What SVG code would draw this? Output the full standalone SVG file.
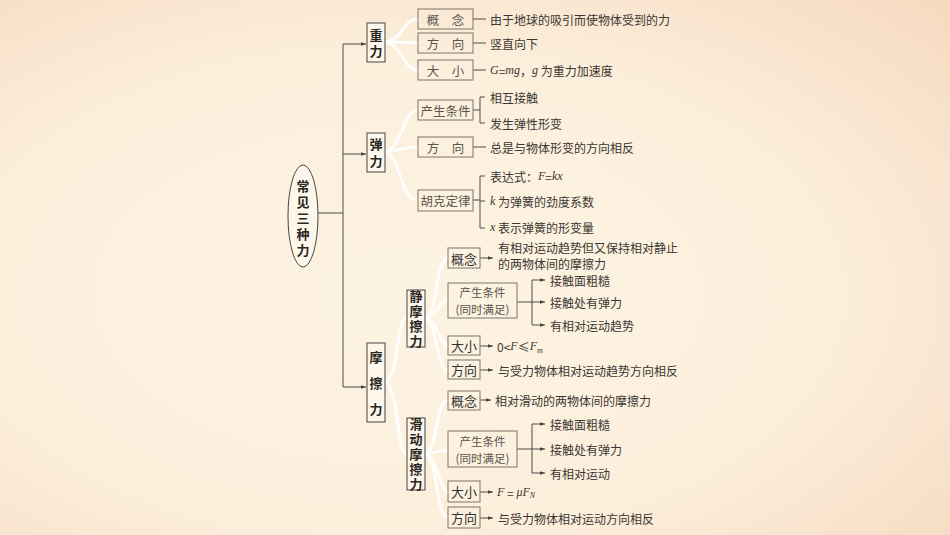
<svg xmlns="http://www.w3.org/2000/svg" width="950" height="535" viewBox="0 0 950 535">
<defs>
<radialGradient id="bg" cx="0.42" cy="0.55" r="0.8">
<stop offset="0" stop-color="#fdf3e2"/>
<stop offset="0.55" stop-color="#fcefdc"/>
<stop offset="1" stop-color="#f6d9bf"/>
</radialGradient>
<marker id="ah" markerWidth="6" markerHeight="6" refX="5" refY="3" orient="auto" markerUnits="userSpaceOnUse"><path d="M0,1.2 L5,3 L0,4.8 z" fill="#444"/></marker>
<style>
.l1{fill:#fdf6ea;stroke:#4a4540;stroke-width:1}
.l2{fill:none;stroke:#7d746a;stroke-width:1}
.el{fill:#fdf6ea;stroke:#4a4540;stroke-width:1}
text{font-family:"Noto Sans CJK SC","Noto Sans",sans-serif;font-size:12px;fill:#3a3632;dominant-baseline:central}
.v{writing-mode:vertical-rl;text-orientation:upright;dominant-baseline:auto;font-weight:bold;fill:#2a2622;text-anchor:middle;font-size:13px}
.c{text-anchor:middle;font-size:12.5px;fill:#5a544e}
.c2{text-anchor:middle;font-size:11.5px;fill:#5a544e}
.d{text-anchor:middle;font-size:13px;fill:#333}
.m{font-family:"Liberation Serif",serif;font-style:italic}
.ln{fill:none;stroke:#4f4a45;stroke-width:1}
.ar{fill:none;stroke:#4f4a45;stroke-width:1;marker-end:url(#ah)}
.fan{fill:none;stroke:#ffffff;stroke-width:3;stroke-linecap:round;opacity:0.9}
</style>
</defs>
<rect width="950" height="535" fill="url(#bg)"/>

<g id="connectors">
<path class="fan" d="M386,42 C402,40 404,19 418,19"/>
<path class="fan" d="M386,42 C400,42 406,43 418,43"/>
<path class="fan" d="M386,42 C402,46 404,70 418,70"/>
<path class="fan" d="M386,152 C402,146 404,110 418,110"/>
<path class="fan" d="M386,152 C400,150 406,147 418,147"/>
<path class="fan" d="M386,152 C402,160 400,200 418,200"/>
<path class="fan" d="M386,382 C400,370 396,318 407,318"/>
<path class="fan" d="M386,382 C400,394 396,454 407,454"/>
<path class="fan" d="M426,318 C438,310 436,258 448,258"/>
<path class="fan" d="M426,318 C438,314 440,300 448,300"/>
<path class="fan" d="M426,318 C438,322 440,346 448,346"/>
<path class="fan" d="M426,318 C438,326 436,370 448,370"/>
<path class="fan" d="M426,454 C438,446 436,400 448,400"/>
<path class="fan" d="M426,454 C438,452 440,450 448,450"/>
<path class="fan" d="M426,454 C438,460 440,492 448,492"/>
<path class="fan" d="M426,454 C438,462 436,517 448,517"/>

<path class="ln" d="M318,213 H343"/>
<path class="ln" d="M343,44 V387"/>
<path class="ar" d="M343,44 H366"/>
<path class="ar" d="M343,154 H366"/>
<path class="ar" d="M343,387 H366"/>

<path class="ln" d="M473,19 H486"/>
<path class="ln" d="M473,43 H486"/>
<path class="ln" d="M473,70 H486"/>
<path class="ln" d="M473,110 H480 M485,97 H480 V123 H485"/>
<path class="ln" d="M473,147 H486"/>
<path class="ln" d="M473,200 H480 M485,176 H480 V228 H485 M480,201 H485"/>

<path class="ar" d="M480,258 H493"/>
<path class="ln" d="M517,302 H532 M532,280 V325"/>
<path class="ar" d="M532,280 H545"/>
<path class="ar" d="M532,302 H545"/>
<path class="ar" d="M532,325 H545"/>
<path class="ar" d="M480,346 H493"/>
<path class="ar" d="M480,370 H493"/>

<path class="ar" d="M480,400 H491"/>
<path class="ln" d="M517,449 H532 M532,424 V473"/>
<path class="ar" d="M532,424 H545"/>
<path class="ar" d="M532,449 H545"/>
<path class="ar" d="M532,473 H545"/>
<path class="ar" d="M480,492 H493"/>
<path class="ar" d="M480,518 H493"/>
</g>

<g id="root">
<ellipse class="el" cx="303" cy="216" rx="15" ry="51"/>
<text class="v" x="303" y="220" letter-spacing="3">常见三种力</text>
</g>

<g id="gravity">
<rect class="l1" x="367" y="23" width="18" height="39"/>
<text class="v" x="376" y="44.5" letter-spacing="3">重力</text>
</g>
<g id="g-concept">
<rect class="l2" x="418" y="9" width="55" height="20"/>
<text class="c" x="445.5" y="19">概　念</text>
<text x="490" y="19">由于地球的吸引而使物体受到的力</text>
</g>
<g id="g-direction">
<rect class="l2" x="418" y="33" width="55" height="20"/>
<text class="c" x="445.5" y="43">方　向</text>
<text x="490" y="43">竖直向下</text>
</g>
<g id="g-size">
<rect class="l2" x="418" y="60" width="55" height="20"/>
<text class="c" x="445.5" y="70">大　小</text>
<text x="490" y="70"><tspan class="m">G</tspan>=<tspan class="m">mg</tspan>，<tspan class="m">g</tspan> 为重力加速度</text>
</g>

<g id="elastic">
<rect class="l1" x="367" y="133" width="18" height="39"/>
<text class="v" x="376" y="154.5" letter-spacing="4">弹力</text>
</g>
<g id="e-cond">
<rect class="l2" x="418" y="100" width="55" height="20"/>
<text class="c" x="445.5" y="110">产生条件</text>
<text x="490" y="97">相互接触</text>
<text x="490" y="123">发生弹性形变</text>
</g>
<g id="e-direction">
<rect class="l2" x="418" y="137" width="55" height="20"/>
<text class="c" x="445.5" y="147">方　向</text>
<text x="490" y="147">总是与物体形变的方向相反</text>
</g>
<g id="e-hooke">
<rect class="l2" x="418" y="190" width="55" height="21"/>
<text class="c" x="445.5" y="200.5">胡克定律</text>
<text x="490" y="176">表达式：<tspan class="m">F</tspan>=<tspan class="m">kx</tspan></text>
<text x="490" y="201"><tspan class="m">k</tspan> 为弹簧的劲度系数</text>
<text x="490" y="227"><tspan class="m">x</tspan> 表示弹簧的形变量</text>
</g>

<g id="friction">
<rect class="l1" x="367" y="343" width="18" height="79"/>
<text class="v" x="376" y="390" letter-spacing="13">摩擦力</text>
</g>

<g id="static">
<rect class="l1" x="407" y="290" width="18" height="57"/>
<text class="v" x="416" y="320" font-size="12" letter-spacing="2">静摩擦力</text>
</g>
<g id="s-concept">
<rect class="l2" x="448" y="248" width="32" height="20"/>
<text class="d" x="464" y="258">概念</text>
<text x="498" y="247">有相对运动趋势但又保持相对静止<tspan x="498" dy="16">的两物体间的摩擦力</tspan></text>
</g>
<g id="s-cond">
<rect class="l2" x="448" y="283" width="69" height="35"/>
<text class="c2" x="482.5" y="292">产生条件<tspan x="482.5" dy="17">(同时满足)</tspan></text>
<text x="550" y="280">接触面粗糙</text>
<text x="550" y="302">接触处有弹力</text>
<text x="550" y="325">有相对运动趋势</text>
</g>
<g id="s-size">
<rect class="l2" x="448" y="336" width="32" height="19"/>
<text class="d" x="464" y="345.5">大小</text>
<text x="497" y="346">0&lt;<tspan class="m">F</tspan>≤<tspan class="m">F</tspan><tspan class="m" font-size="8" dy="4">m</tspan></text>
</g>
<g id="s-direction">
<rect class="l2" x="448" y="360" width="32" height="19"/>
<text class="d" x="464" y="369.5">方向</text>
<text x="498" y="370">与受力物体相对运动趋势方向相反</text>
</g>

<g id="sliding">
<rect class="l1" x="407" y="418" width="18" height="72"/>
<text class="v" x="416" y="455" font-size="12" letter-spacing="2">滑动摩擦力</text>
</g>
<g id="k-concept">
<rect class="l2" x="448" y="391" width="32" height="19"/>
<text class="d" x="464" y="400.5">概念</text>
<text x="495" y="400">相对滑动的两物体间的摩擦力</text>
</g>
<g id="k-cond">
<rect class="l2" x="448" y="431" width="69" height="36"/>
<text class="c2" x="482.5" y="440.5">产生条件<tspan x="482.5" dy="17">(同时满足)</tspan></text>
<text x="550" y="424">接触面粗糙</text>
<text x="550" y="449">接触处有弹力</text>
<text x="550" y="473">有相对运动</text>
</g>
<g id="k-size">
<rect class="l2" x="448" y="481" width="32" height="21"/>
<text class="d" x="464" y="491.5">大小</text>
<text x="497" y="492"><tspan class="m">F</tspan> = <tspan class="m">μF</tspan><tspan class="m" font-size="8" dy="3">N</tspan></text>
</g>
<g id="k-direction">
<rect class="l2" x="448" y="507" width="32" height="21"/>
<text class="d" x="464" y="517.5">方向</text>
<text x="498" y="518">与受力物体相对运动方向相反</text>
</g>
</svg>
